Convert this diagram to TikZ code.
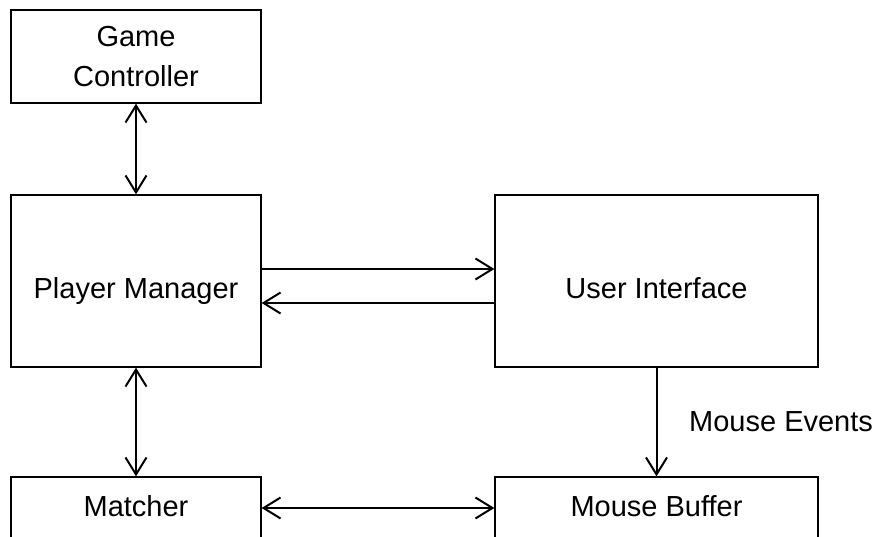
\documentclass[tikz,border=0pt]{standalone}
\usepackage{fontspec}
\setmainfont{Liberation Sans}
\usetikzlibrary{arrows.meta}
\begin{document}
\begin{tikzpicture}[x=1pt,y=-1pt,
  box/.style={draw,line width=1.3pt,rectangle,inner sep=0pt,align=center,
    font=\fontsize{29pt}{40pt}\selectfont},
  cutbox/.style={box,text height=20pt,text depth=12pt},
  bigbox/.style={box,text height=40pt,text depth=6pt},
  conn/.style={line width=2pt,{Straight Barb[length=17pt,width=21pt]}-{Straight Barb[length=17pt,width=21pt]}},
  oneway/.style={line width=2pt,-{Straight Barb[length=17pt,width=21pt]}},
  lbl/.style={inner sep=0pt,font=\fontsize{29pt}{40pt}\selectfont}]
\useasboundingbox (0,0) rectangle (874,536);
\clip (0,0) rectangle (874,536);
\node[box,minimum width=250pt,minimum height=93pt] (gc) at (136,56.5) {Game\\Controller};
\node[bigbox,minimum width=250pt,minimum height=172pt] (pm) at (136,281) {Player Manager};
\node[bigbox,minimum width=323pt,minimum height=172pt] (ui) at (656.5,281) {User Interface};
\node[cutbox,minimum width=250pt,minimum height=70pt] (m) at (136,512) {Matcher};
\node[cutbox,minimum width=323pt,minimum height=70pt] (mb) at (656.5,512) {Mouse Buffer};
\draw[conn] (gc.south) -- (pm.north);
\draw[conn] (pm.south) -- (m.north);
\draw[oneway] ([yshift=12pt]pm.east) -- ([yshift=12pt]ui.west);
\draw[oneway] ([yshift=-22pt]ui.west) -- ([yshift=-22pt]pm.east);
\draw[oneway] (ui.south) -- (mb.north);
\draw[conn] ([yshift=4pt]m.east) -- ([yshift=4pt]mb.west);
\node[lbl,anchor=base west] (me) at (689,431) {Mouse Events};
\end{tikzpicture}
\end{document}
